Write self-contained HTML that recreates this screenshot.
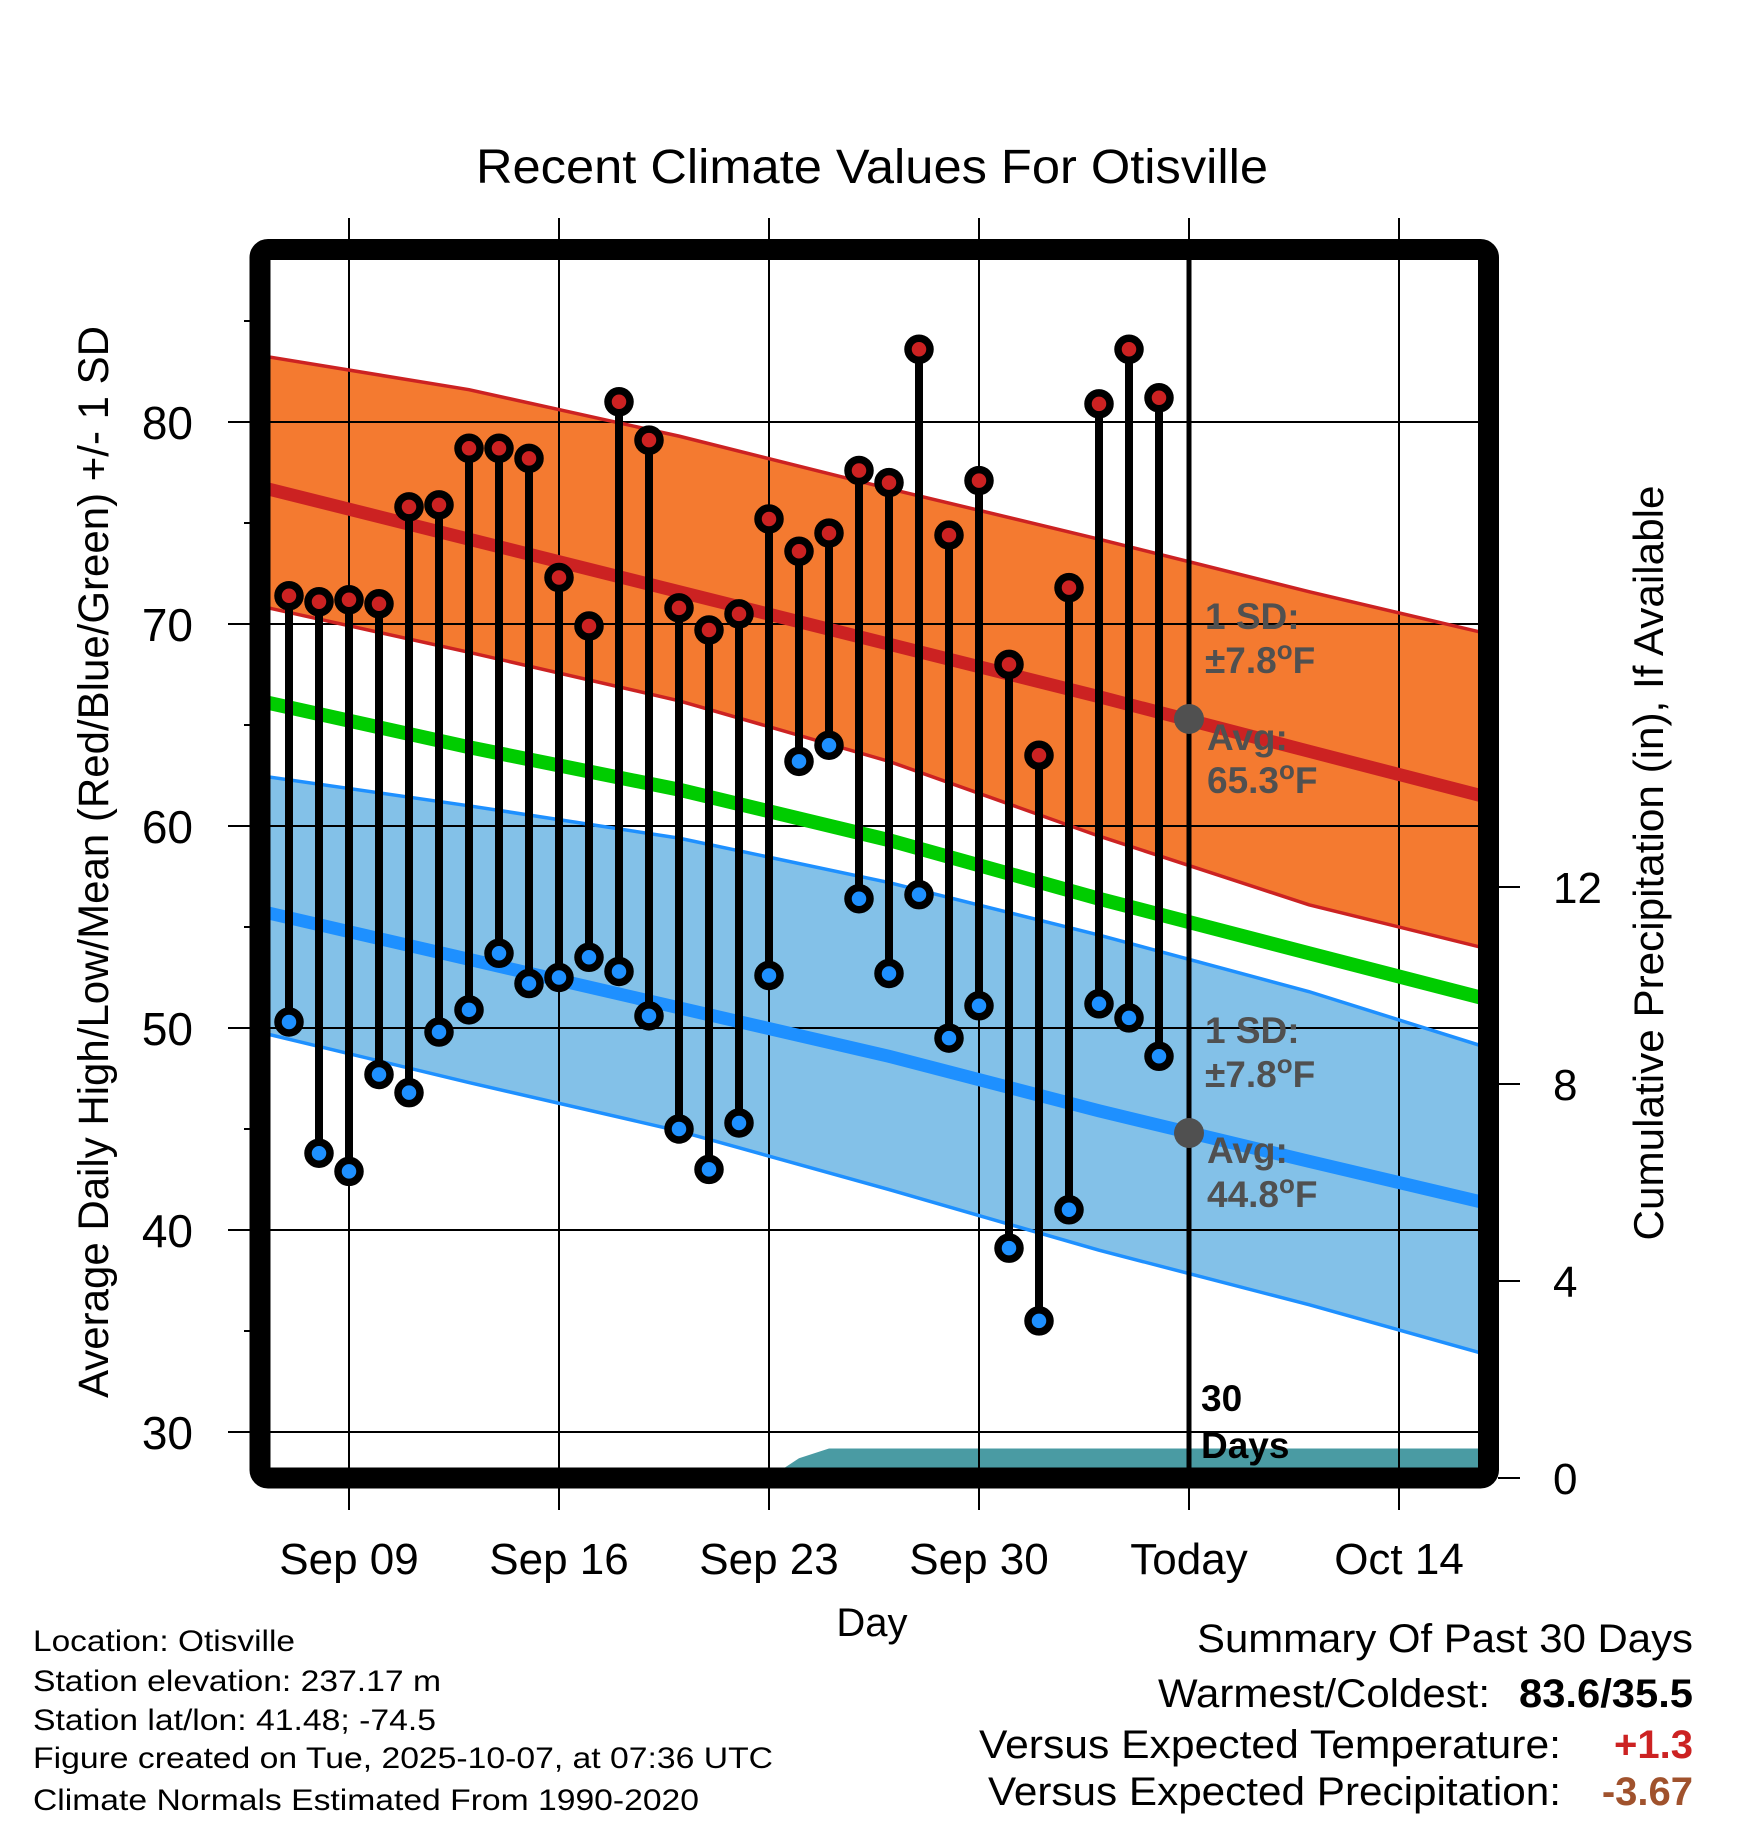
<!DOCTYPE html>
<html><head><meta charset="utf-8"><style>
html,body{margin:0;padding:0;background:#fff;}
svg{display:block;font-family:"Liberation Sans",sans-serif;}
</style></head><body>
<svg id="chart" width="1748" height="1828" viewBox="0 0 1748 1828" xmlns="http://www.w3.org/2000/svg">
<defs><clipPath id="plotclip"><rect x="270" y="260" width="1208" height="1208"/></clipPath></defs>
<g id="bands" clip-path="url(#plotclip)"></g>
<g id="grid"></g>
<g id="lines" clip-path="url(#plotclip)"></g>
<g id="marks"></g>
<g id="annot"></g>
<rect x="260" y="249.5" width="1228.5" height="1228.5" rx="8" fill="none" stroke="#000" stroke-width="21"/>
<g id="axes"></g>
<text x="872" y="183" font-size="48" text-anchor="middle" textLength="792" lengthAdjust="spacingAndGlyphs">Recent Climate Values For Otisville</text>
<text transform="translate(108,862) rotate(-90)" font-size="43" text-anchor="middle" textLength="1072" lengthAdjust="spacingAndGlyphs">Average Daily High/Low/Mean (Red/Blue/Green) +/- 1 SD</text>
<text transform="translate(1663,863) rotate(-90)" font-size="42" text-anchor="middle" textLength="755" lengthAdjust="spacingAndGlyphs">Cumulative Precipitation (in), If Available</text>
<text x="872" y="1636" font-size="40" text-anchor="middle">Day</text>
<g font-size="30">
<text x="33" y="1651" textLength="262" lengthAdjust="spacingAndGlyphs">Location: Otisville</text>
<text x="33" y="1691" textLength="408" lengthAdjust="spacingAndGlyphs">Station elevation: 237.17 m</text>
<text x="33" y="1730" textLength="403" lengthAdjust="spacingAndGlyphs">Station lat/lon: 41.48; -74.5</text>
<text x="33" y="1768" textLength="740" lengthAdjust="spacingAndGlyphs">Figure created on Tue, 2025-10-07, at 07:36 UTC</text>
<text x="33" y="1810" textLength="666" lengthAdjust="spacingAndGlyphs">Climate Normals Estimated From 1990-2020</text>
</g>
<g font-size="40">
<text x="1693" y="1652" text-anchor="end" textLength="496" lengthAdjust="spacingAndGlyphs">Summary Of Past 30 Days</text>
<text x="1490" y="1707" text-anchor="end" textLength="332" lengthAdjust="spacingAndGlyphs">Warmest/Coldest:</text>
<text x="1693" y="1707" text-anchor="end" font-weight="bold" textLength="174" lengthAdjust="spacingAndGlyphs">83.6/35.5</text>
<text x="1561" y="1758" text-anchor="end" textLength="582" lengthAdjust="spacingAndGlyphs">Versus Expected Temperature:</text>
<text x="1693" y="1758" text-anchor="end" font-weight="bold" fill="#cc2222">+1.3</text>
<text x="1561" y="1805" text-anchor="end" textLength="573" lengthAdjust="spacingAndGlyphs">Versus Expected Precipitation:</text>
<text x="1693" y="1805" text-anchor="end" font-weight="bold" fill="#a0522d">-3.67</text>
</g>
<script>
// Data: days as September day numbers (Oct 1 = 31)
const obsDays = [7,8,9,10,11,12,13,14,15,16,17,18,19,20,21,22,23,24,25,26,27,28,29,30,31,32,33,34,35,36];
const highs = [71.4,71.1,71.2,71.0,75.8,75.9,78.7,78.7,78.2,72.3,69.9,81.0,79.1,70.8,69.7,70.5,75.2,73.6,74.5,77.6,77.0,83.6,74.4,77.1,68.0,63.5,71.8,80.9,83.6,81.2];
const lows = [50.3,43.8,42.9,47.7,46.8,49.8,50.9,53.7,52.2,52.5,53.5,52.8,50.6,45.0,43.0,45.3,52.6,63.2,64.0,56.4,52.7,56.6,49.5,51.1,39.1,35.5,41.0,51.2,50.5,48.6];
const normDays = [6,13,20,27,34,41,47];
const highMean = [76.8,74.2,71.6,69.0,66.4,63.7,61.4];
const highUpper = [83.3,81.6,79.3,76.7,74.2,71.6,69.5];
const highLower = [70.9,68.6,66.2,63.2,59.5,56.1,53.9];
const meanLine = [66.2,63.9,61.8,59.3,56.4,53.7,51.4];
const lowMean = [55.8,53.4,51.0,48.6,45.9,43.4,41.3];
const lowUpper = [62.5,61.0,59.4,57.2,54.6,51.8,49.0];
const lowLower = [49.8,47.3,44.9,42.0,39.0,36.3,33.8];
const precipDays = [6,23,24,25,36,47];
const precipCum = [0,0,0.4,0.6,0.6,0.6];
const xTickDays = [9,16,23,30,37,44];
const xTickLabels = ["Sep 09","Sep 16","Sep 23","Sep 30","Today","Oct 14"];
const yTicks = [30,40,50,60,70,80];
const yMinor = [35,45,55,65,75,85];
const pTicks = [0,4,8,12];
const todayDay = 37;

const NS="http://www.w3.org/2000/svg";
const X = d => 349 + 30*(d-9);
const Y = t => 422 + (80-t)*20.2;
const P = p => 1478 - p*49.25;
function mk(tag, attrs, parent){const e=document.createElementNS(NS,tag);for(const k in attrs)e.setAttribute(k,attrs[k]);parent.appendChild(e);return e;}
const bands=document.getElementById('bands'), grid=document.getElementById('grid'), lines=document.getElementById('lines'), marks=document.getElementById('marks'), axes=document.getElementById('axes'), annot=document.getElementById('annot');
function pts(arr){return normDays.map((d,i)=>X(d)+','+Y(arr[i])).join(' ');}
function band(up,lo,fill){
  const p = normDays.map((d,i)=>X(d)+','+Y(up[i])).concat(normDays.slice().reverse().map((d,j)=>{const i=normDays.length-1-j;return X(d)+','+Y(lo[i]);}));
  const e=mk('polygon',{points:p.join(' '),fill:fill},bands);
  
  return e;
}
const hb=band(highUpper,highLower,'#f47a30');

const lb=band(lowUpper,lowLower,'#83c1e8');

// precip
const pp = precipDays.map((d,i)=>X(d)+','+P(precipCum[i]));
pp.push(X(47)+','+1500); pp.push(X(6)+','+1500);
const pa=mk('polygon',{points:pp.join(' '),fill:'#4a9ba3'},bands);


// grid
yTicks.forEach(t=>{
  const l=mk('line',{x1:228,x2:1478,y1:Y(t),y2:Y(t),stroke:'#000','stroke-width':2},grid);
  
  
  const tx=mk('text',{x:193,y:Y(t)+17,'font-size':46,'text-anchor':'end'},axes);
  tx.textContent=t;
  
  
});
yMinor.forEach(t=>{
  const l=mk('line',{x1:244,x2:252,y1:Y(t),y2:Y(t),stroke:'#000','stroke-width':2},grid);
  
  
});
xTickDays.forEach((d,i)=>{
  const l=mk('line',{x1:X(d),x2:X(d),y1:218,y2:1510,stroke:'#000','stroke-width':2},grid);
  
  
  const tx=mk('text',{x:X(d),y:1574,'font-size':44,'text-anchor':'middle'},axes);
  tx.textContent=xTickLabels[i];
  
  
});
pTicks.forEach(p=>{
  const l=mk('line',{x1:1498,x2:1520,y1:P(p),y2:P(p),stroke:'#000','stroke-width':2},axes);
  
  
  const tx=mk('text',{x:1553,y:P(p)+16,'font-size':44},axes);
  tx.textContent=p;
  
  
});
// lines
function pl(arr,color,w,name){const e=mk('polyline',{points:pts(arr),fill:'none',stroke:color,'stroke-width':w},lines);
  
  }
pl(highUpper,'#cc2222',3.5,'high-upper-line');
pl(highLower,'#cc2222',3.5,'high-lower-line');
pl(highMean,'#cc2222',13,'high-mean-line');
pl(lowUpper,'#1e90ff',3.5,'low-upper-line');
pl(lowLower,'#1e90ff',3.5,'low-lower-line');
pl(meanLine,'#00cc00',14,'mean-line');
pl(lowMean,'#1e90ff',13,'low-mean-line');
// stems and markers
obsDays.forEach((d,i)=>{
  const s=mk('line',{x1:X(d),x2:X(d),y1:Y(highs[i]),y2:Y(lows[i]),stroke:'#000','stroke-width':8},marks);
  
  
});
obsDays.forEach((d,i)=>{
  const h=mk('circle',{cx:X(d),cy:Y(highs[i]),r:11,fill:'#cc2222',stroke:'#000','stroke-width':7.5},marks);
  
  
  const l=mk('circle',{cx:X(d),cy:Y(lows[i]),r:11,fill:'#1e90ff',stroke:'#000','stroke-width':7.5},marks);
  
  
});
// today line
const tl=mk('line',{x1:X(todayDay),x2:X(todayDay),y1:260,y2:1468,stroke:'#000','stroke-width':5},annot);


const hm=mk('circle',{cx:X(todayDay),cy:Y(65.3),r:15,fill:'#505050'},annot);


const lm=mk('circle',{cx:X(todayDay),cy:Y(44.8),r:15,fill:'#505050'},annot);


function lab(x,y,str,withDeg,fill,name){
  const t=mk('text',{x:x,y:y,'font-size':37,'font-weight':'bold',fill:fill},annot);
  t.appendChild(document.createTextNode(str));
  if(withDeg){
    const o=mk('tspan',{'font-size':26,dy:-14},t); o.textContent='o';
    const f=mk('tspan',{dy:14},t); f.textContent='F';
  }
  
  
}
lab(1205,629,'1 SD:',false,'#505050','high-sd-label');
lab(1205,673,'±7.8',true,'#505050','high-sd-value');
lab(1207,750,'Avg:',false,'#505050','high-avg-label');
lab(1207,793,'65.3',true,'#505050','high-avg-value');
lab(1205,1043,'1 SD:',false,'#505050','low-sd-label');
lab(1205,1087,'±7.8',true,'#505050','low-sd-value');
lab(1207,1163,'Avg:',false,'#505050','low-avg-label');
lab(1207,1207,'44.8',true,'#505050','low-avg-value');
lab(1201,1411,'30',false,'#000','days-label-number');
lab(1201,1458,'Days',false,'#000','days-label-text');
</script>
</svg>
</body></html>
